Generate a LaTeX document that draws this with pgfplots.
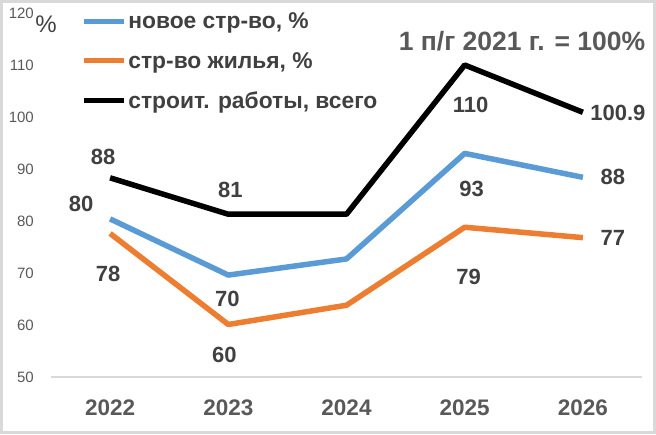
\documentclass[border=0pt]{standalone}
\usepackage{fontspec}
\setmainfont{Liberation Sans}
\usepackage{pgfplots}
\pgfplotsset{compat=1.18}
\usepackage{pgfplotstable}
\definecolor{cblue}{HTML}{5B9BD5}
\definecolor{corange}{HTML}{ED7D31}
\definecolor{tgray}{HTML}{595959}
\definecolor{lgray}{HTML}{404040}
\definecolor{bgray}{HTML}{D9D9D9}

\pgfplotstableread{
x y
2022 80.4
2023 69.6
2024 72.7
2025 93.0
2026 88.4
}\tblue
\pgfplotstableread{
x y
2022 77.6
2023 60.1
2024 63.8
2025 78.8
2026 76.8
}\torange
\pgfplotstableread{
x y
2022 88.3
2023 81.3
2024 81.3
2025 110.0
2026 100.9
}\tblack
\pgfplotstableread{
x y lab dx dy
2022 88.3 88 -7 21
2023 81.3 81 2 24
2025 110.0 110 6 -40
2026 100.9 100.9 35 -1
2022 80.4 80 -29 15
2023 69.6 70 -1 -24
2025 93.0 93 7 -36
2026 88.4 88 30 0
2022 77.6 78 -2 -40
2023 60.1 60 -4 -30
2025 78.8 79 4 -50
2026 76.8 77 30 0
}\tlabels

\begin{document}
\begin{tikzpicture}[x=1pt,y=1pt]
\fill[white] (0,0) rectangle (656,434);
\draw[bgray, line width=3pt] (1.5,1.5) rectangle (654.5,432.5);
\begin{axis}[
  at={(51pt,57pt)}, anchor=south west,
  scale only axis, width=591pt, height=364pt,
  xmin=2021.5, xmax=2026.5, ymin=50, ymax=120,
  axis lines*=left,
  x axis line style={bgray, line width=2pt},
  y axis line style={draw=none},
  major tick length=0pt,
  tick style={draw=none},
  xtick={2022,2023,2024,2025,2026},
  ytick={50,60,70,80,90,100,110,120},
  /pgf/number format/assume math mode=true,
  xticklabel={\pgfmathprintnumber[1000 sep={}]{\tick}},
  xticklabel style={anchor=center, yshift=-31pt, font=\fontsize{22.5}{26}\selectfont\bfseries, text=tgray},
  yticklabel style={anchor=east, inner sep=0pt, xshift=-17pt, font=\fontsize{15}{17}\selectfont, text=tgray},
  clip=false,
  legend style={at={(0.046,1.012)}, anchor=north west, draw=none, fill=none,
    font=\fontsize{22.8}{27}\selectfont\bfseries, text=lgray, row sep=18pt},
  legend cell align=left,
  legend image code/.code={\draw[#1, line width=5pt] (0pt,0pt) -- (40pt,0pt);},
]
\addplot[cblue, line width=5.5pt, line join=round] table[x=x,y=y]{\tblue};
\addlegendentry{новое стр-во, \%}
\addplot[corange, line width=5.5pt, line join=round] table[x=x,y=y]{\torange};
\addlegendentry{стр-во жилья, \%}
\addplot[black, line width=5.5pt, line join=round] table[x=x,y=y]{\tblack};
\addlegendentry{строит. работы, всего}
\addplot[draw=none, mark=none, forget plot,
  nodes near coords, point meta=explicit symbolic,
  visualization depends on={\thisrow{dx}\as\dx},
  visualization depends on={\thisrow{dy}\as\dy},
  nodes near coords style={anchor=center, xshift=\dx pt, yshift=\dy pt,
    font=\fontsize{22}{26}\selectfont\bfseries, text=lgray}]
  table[x=x,y=y,meta=lab]{\tlabels};
\end{axis}
\node[font=\fontsize{26.5}{31}\selectfont\bfseries, text=tgray] at (522pt,393pt) {1 п/г 2021 г. = 100\%};
\node[font=\fontsize{24}{28}\selectfont, text=lgray] at (46pt,410pt) {\%};
\end{tikzpicture}
\end{document}
